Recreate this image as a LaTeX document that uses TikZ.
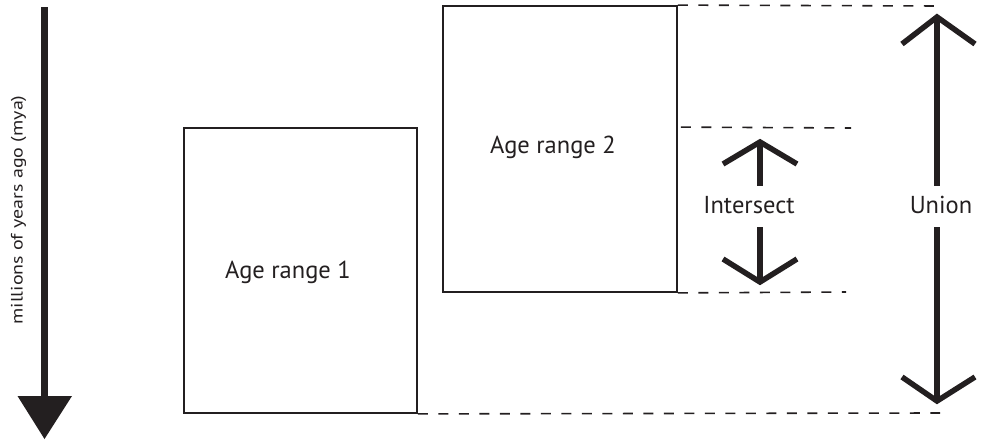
\documentclass[tikz,border=0pt]{standalone}
\usepackage{fontspec}
\setmainfont{PT Sans}
\definecolor{ink}{HTML}{231F20}
\tikzset{
  agebox/.style={draw=ink, line width=1.8pt, inner sep=0pt},
  lbl/.style={text=ink, font=\fontsize{24.5}{28}\selectfont, inner sep=0pt, anchor=base},
  guide/.style={draw=ink, line width=1.6pt, dash pattern=on 10pt off 10.5pt},
  shaft/.style={draw=ink, line width=5.5pt},
  wing/.style={draw=ink, line width=5.5pt, line join=miter, miter limit=10},
}
\begin{document}
\begin{tikzpicture}[x=1pt,y=-1pt]
\useasboundingbox (0,0) rectangle (986,442);
% boxes
\node[agebox, minimum width=233pt, minimum height=285pt] (r1) at (300.5,270.5) {};
\node[agebox, minimum width=234pt, minimum height=286pt] (r2) at (560,149) {};
\node[lbl] (t1) at (288,278) {Age range 1};
\node[lbl] (t2) at (553,153) {Age range 2};
% guides
\coordinate (g1) at (940,6);
\coordinate (g2) at (851,128);
\coordinate (g3) at (846,292);
\coordinate (g4) at (940,413);
\draw[guide] (r2.north east) -- (g1);
\draw[guide] (r2.east |- r1.north) ++(3,0) -- (g2);
\draw[guide] (r2.south east) -- (g3);
\draw[guide] (r1.south east) -- (g4);
% time axis
\coordinate (a0) at (44.5,7);
\coordinate (a1) at (44.5,398);
\draw[shaft, line width=6.5pt] (a0) -- (a1);
\fill[ink] (17.5,396) -- (72,396) -- (44.5,439) -- cycle;
\node[text=ink, inner sep=0pt, font=\fontsize{16.5}{19}\selectfont, rotate=90, xscale=1.21] (ax) at (18.5,210) {millions of years ago (mya)};
% intersect
\node[lbl] (it) at (749,213) {Intersect};
\coordinate (i1) at (760,142);
\coordinate (i2) at (760,282);
\draw[shaft] (i1) -- (760,186);
\draw[wing] (723,164) -- (i1) -- (797,164);
\draw[shaft] (760,227) -- (i2);
\draw[wing] (723,259) -- (i2) -- (797,259);
% union
\node[lbl] (un) at (941,213) {Union};
\coordinate (u1) at (937,17);
\coordinate (u2) at (937,401);
\draw[shaft] (u1) -- (937,186);
\draw[wing] (902,44) -- (u1) -- (975,44);
\draw[shaft] (937,227) -- (u2);
\draw[wing] (902,377) -- (u2) -- (975,377);
\end{tikzpicture}
\end{document}
